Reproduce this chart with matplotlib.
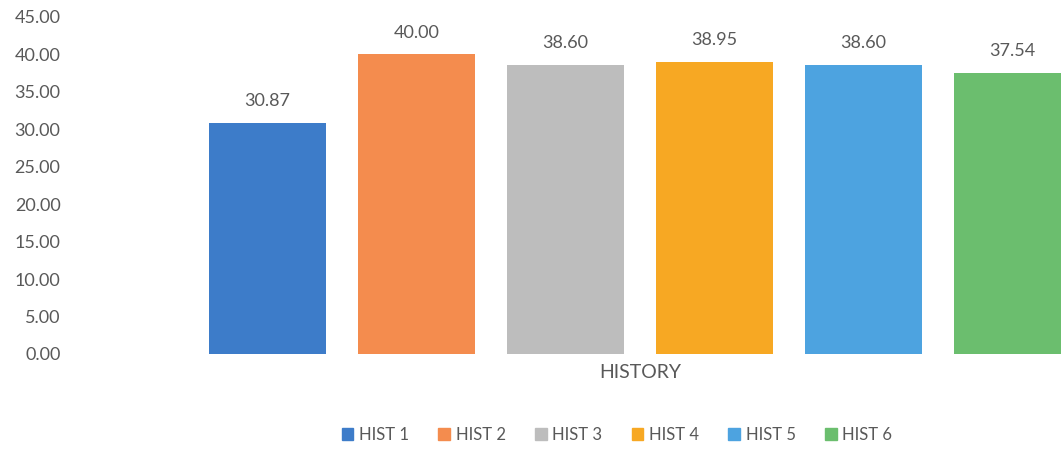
import matplotlib
matplotlib.use("Agg")
import matplotlib.pyplot as plt
from matplotlib.patches import Patch

series = ["HIST 1", "HIST 2", "HIST 3", "HIST 4", "HIST 5", "HIST 6"]
values = [30.87, 40.00, 38.60, 38.95, 38.60, 37.54]
category = "HISTORY"
colors = ["#3d7cc9", "#f48c4e", "#bdbdbd", "#f7a823", "#4da3e0", "#6bbe6e"]
yticks = [0, 5, 10, 15, 20, 25, 30, 35, 40, 45]

plt.rcParams["font.family"] = ["Lato", "DejaVu Sans"]
txt = "#595959"

W, H = 1061, 450
fig = plt.figure(figsize=(W / 100, H / 100), dpi=100)
# axes runs past the right edge, as in the cropped original
ax = fig.add_axes([80 / W, 96 / H, 1120 / W, 337 / H])

xs = range(len(values))
bw = 0.785
ax.bar(xs, values, width=bw, color=colors)
for x, v in zip(xs, values):
    ax.annotate(f"{v:.2f}", (x, v), xytext=(0, 10), textcoords="offset points",
                ha="center", va="bottom", fontsize=13, color=txt)

ax.set_xlim(-1.258, 6.258)
ax.set_ylim(0, 45)
ax.set_yticks(yticks)
ax.set_yticklabels([f"{t:.2f}" for t in yticks], fontsize=13, color=txt)
ax.set_xticks([2.5])
ax.set_xticklabels([category], fontsize=14, color=txt)
ax.tick_params(length=0, axis="y", pad=14)
ax.tick_params(length=0, axis="x", pad=7)
for s in ax.spines.values():
    s.set_visible(False)

handles = [Patch(color=c, label=s) for c, s in zip(colors, series)]
leg = fig.legend(handles=handles, loc="center", ncol=6, frameon=False,
                 bbox_to_anchor=(617 / W, 15 / H), fontsize=12,
                 handlelength=0.7, handleheight=0.7, handletextpad=0.35,
                 columnspacing=1.75)
for t in leg.get_texts():
    t.set_color(txt)

fig.savefig("out.png", dpi=100)
